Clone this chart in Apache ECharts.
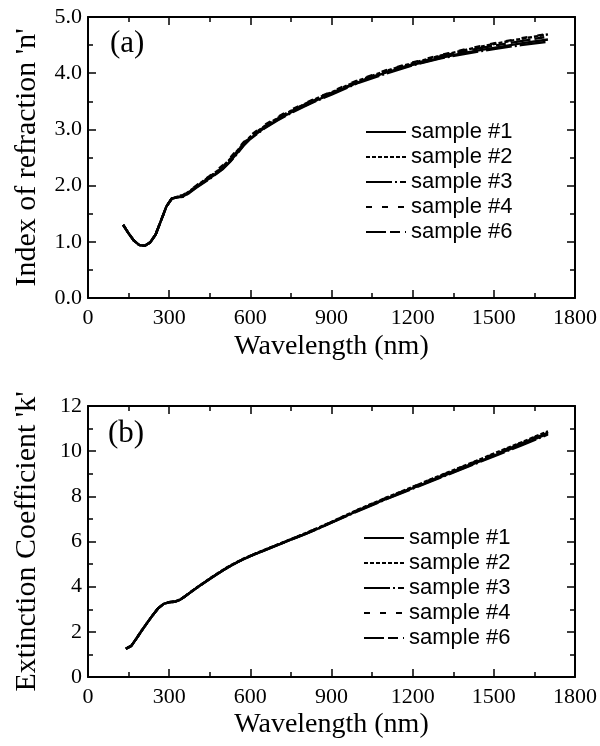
<!DOCTYPE html>
<html><head><meta charset="utf-8">
<script src="https://cdn.jsdelivr.net/npm/echarts@6/dist/echarts.min.js"></script>
<style>html,body{margin:0;padding:0;background:#fff}#c{width:600px;height:746px}</style>
</head><body><div id="c"></div><script>
// ---------- data ----------
const sampleNames = ['sample #1', 'sample #2', 'sample #3', 'sample #4', 'sample #6'];

// (a) refractive index n
const nWavelengths = [130,150,170,190,210,230,250,270,290,310,330,350,375,400,425,450,475,500,525,550,575,600,650,700,750,800,850,900,1000,1100,1200,1300,1400,1500,1600,1700];
const nSample1 = [1.30,1.15,1.02,0.94,0.93,0.99,1.13,1.38,1.63,1.77,1.79,1.80,1.88,1.97,2.05,2.13,2.22,2.31,2.43,2.57,2.72,2.84,3.02,3.17,3.30,3.42,3.53,3.63,3.84,4.01,4.15,4.27,4.37,4.45,4.53,4.60];
const nSample2 = [1.30,1.15,1.02,0.94,0.93,0.99,1.13,1.38,1.63,1.77,1.80,1.82,1.90,1.99,2.08,2.16,2.25,2.35,2.47,2.61,2.75,2.87,3.05,3.20,3.33,3.45,3.56,3.66,3.87,4.04,4.18,4.31,4.42,4.52,4.61,4.69];
const nSample3 = [1.30,1.15,1.02,0.94,0.93,0.99,1.13,1.38,1.63,1.77,1.79,1.80,1.87,1.96,2.04,2.12,2.21,2.30,2.42,2.56,2.71,2.83,3.01,3.16,3.29,3.41,3.52,3.62,3.83,3.99,4.14,4.26,4.35,4.43,4.50,4.56];
const nSample4 = [1.30,1.15,1.02,0.94,0.93,0.99,1.13,1.38,1.63,1.78,1.81,1.83,1.91,2.00,2.09,2.17,2.27,2.37,2.49,2.63,2.77,2.89,3.07,3.22,3.35,3.46,3.57,3.67,3.88,4.05,4.19,4.32,4.43,4.53,4.62,4.70];
const nSample6 = [1.30,1.15,1.02,0.94,0.93,0.99,1.13,1.38,1.63,1.77,1.80,1.81,1.89,1.98,2.07,2.15,2.24,2.34,2.46,2.60,2.74,2.86,3.04,3.19,3.32,3.44,3.55,3.65,3.85,4.02,4.16,4.30,4.40,4.49,4.57,4.65];

// (b) extinction coefficient k
const kWavelengths = [140,160,180,200,220,240,260,280,300,320,340,360,380,400,425,450,475,500,525,550,575,600,650,700,750,800,850,900,1000,1100,1200,1300,1400,1500,1600,1700];
const kSample1 = [1.25,1.38,1.72,2.08,2.42,2.75,3.05,3.24,3.31,3.33,3.42,3.58,3.76,3.93,4.14,4.34,4.54,4.73,4.91,5.07,5.22,5.35,5.60,5.84,6.08,6.32,6.57,6.84,7.38,7.88,8.36,8.84,9.32,9.80,10.28,10.78];
const kSample2 = [1.25,1.38,1.72,2.08,2.42,2.75,3.05,3.24,3.31,3.34,3.43,3.59,3.77,3.94,4.15,4.36,4.56,4.75,4.93,5.09,5.24,5.37,5.62,5.86,6.10,6.35,6.60,6.87,7.42,7.93,8.42,8.91,9.40,9.89,10.38,10.88];
const kSample3 = [1.25,1.38,1.72,2.08,2.42,2.75,3.05,3.24,3.31,3.33,3.42,3.58,3.76,3.93,4.14,4.34,4.54,4.73,4.91,5.07,5.22,5.35,5.60,5.84,6.08,6.32,6.57,6.83,7.36,7.86,8.34,8.82,9.29,9.77,10.25,10.74];
const kSample4 = [1.25,1.38,1.72,2.08,2.42,2.75,3.05,3.24,3.32,3.34,3.43,3.59,3.77,3.94,4.15,4.35,4.55,4.74,4.92,5.08,5.23,5.36,5.61,5.85,6.09,6.34,6.59,6.86,7.41,7.92,8.41,8.90,9.38,9.87,10.36,10.86];
const kSample6 = [1.25,1.38,1.72,2.08,2.42,2.75,3.05,3.24,3.31,3.33,3.42,3.58,3.76,3.93,4.14,4.34,4.54,4.73,4.91,5.07,5.22,5.36,5.61,5.85,6.09,6.33,6.58,6.85,7.39,7.90,8.38,8.87,9.35,9.84,10.33,10.82];

const xTickLabels = [0,300,600,900,1200,1500,1800];

// ---------- styles ----------
const dashStyles = ['solid', [4,2], [26,3,2,3], [6,10], [20,4,10,5]];
const serif = 'Liberation Serif';
const sans = 'Liberation Sans';

function zip(xs, ys) { return xs.map((x, i) => [x, ys[i]]); }

function xAx(grid, pos, showLabel) {
  return {
    type: 'value', gridIndex: grid, position: pos,
    min: xTickLabels[0], max: xTickLabels[xTickLabels.length - 1], interval: 300,
    axisLine: { show: true, onZero: false, lineStyle: { color: '#000', width: 2 } },
    axisTick: { show: true, inside: true, length: 8, lineStyle: { color: '#000', width: 1.5 } },
    minorTick: { show: true, splitNumber: 2, length: 5, lineStyle: { color: '#000', width: 1.5 } },
    splitLine: { show: false }, minorSplitLine: { show: false },
    axisLabel: { show: showLabel, color: '#000', fontFamily: serif, fontSize: 22, margin: 9,
      formatter: v => String(v) },
    name: showLabel ? 'Wavelength (nm)' : '', nameLocation: 'middle', nameGap: grid === 0 ? 35 : 34,
    nameTextStyle: { color: '#000', fontFamily: serif, fontSize: 28 }
  };
}
function yAx(grid, pos, showLabel, max, interval, decimals, name) {
  return {
    type: 'value', gridIndex: grid, position: pos, min: 0, max: max, interval: interval,
    axisLine: { show: true, onZero: false, lineStyle: { color: '#000', width: 2 } },
    axisTick: { show: true, inside: true, length: 8, lineStyle: { color: '#000', width: 1.5 } },
    minorTick: { show: true, splitNumber: 2, length: 5, lineStyle: { color: '#000', width: 1.5 } },
    splitLine: { show: false }, minorSplitLine: { show: false },
    axisLabel: { show: showLabel, color: '#000', fontFamily: serif, fontSize: 22, margin: 6,
      formatter: v => v.toFixed(decimals) },
    name: showLabel ? name : '', nameLocation: 'middle', nameGap: 46,
    nameTextStyle: { color: '#000', fontFamily: serif, fontSize: 30 }
  };
}

const nData = [nSample1, nSample2, nSample3, nSample4, nSample6];
const kData = [kSample1, kSample2, kSample3, kSample4, kSample6];

const series = [];
sampleNames.forEach((nm, i) => {
  series.push({ name: nm, type: 'line', xAxisIndex: 0, yAxisIndex: 0, data: zip(nWavelengths, nData[i]),
    symbol: 'none', showSymbol: false, lineStyle: { color: '#000', width: 2.4, type: dashStyles[i] }, itemStyle: { color: '#000' } });
});
sampleNames.forEach((nm, i) => {
  series.push({ name: nm, type: 'line', xAxisIndex: 2, yAxisIndex: 2, data: zip(kWavelengths, kData[i]),
    symbol: 'none', showSymbol: false, lineStyle: { color: '#000', width: 2.4, type: dashStyles[i] }, itemStyle: { color: '#000' } });
});

function legend(top, left) {
  return {
    orient: 'vertical', left: left, top: top, data: sampleNames,
    itemWidth: 40, itemHeight: 12, itemGap: 3, padding: 0,
    selectedMode: false,
    itemStyle: { opacity: 0, color: 'transparent', borderColor: 'transparent', borderWidth: 0 },
    lineStyle: { width: 2 },
    textStyle: { color: '#000', fontFamily: sans, fontSize: 22 }
  };
}

const chart = echarts.init(document.getElementById('c'), null, { renderer: 'canvas' });
chart.setOption({
  animation: false,
  backgroundColor: '#fff',
  title: [
    { text: '(a)', left: 110, top: 28, padding: 0, textStyle: { fontFamily: serif, fontSize: 31, fontWeight: 'normal', color: '#000' } },
    { text: '(b)', left: 108, top: 418, padding: 0, textStyle: { fontFamily: serif, fontSize: 31, fontWeight: 'normal', color: '#000' } }
  ],
  legend: [legend(121, 365), legend(527, 363)],
  grid: [
    { left: 88, top: 17, width: 488, height: 281 },
    { left: 88, top: 406, width: 489, height: 271 }
  ],
  xAxis: [xAx(0, 'bottom', true), xAx(0, 'top', false), xAx(1, 'bottom', true), xAx(1, 'top', false)],
  yAxis: [
    yAx(0, 'left', true, 5, 1, 1, "Index of refraction 'n'"), yAx(0, 'right', false, 5, 1, 1, ''),
    yAx(1, 'left', true, 12, 2, 0, "Extinction Coefficient 'k'"), yAx(1, 'right', false, 12, 2, 0, '')
  ],
  series: series
});
</script></body></html>
